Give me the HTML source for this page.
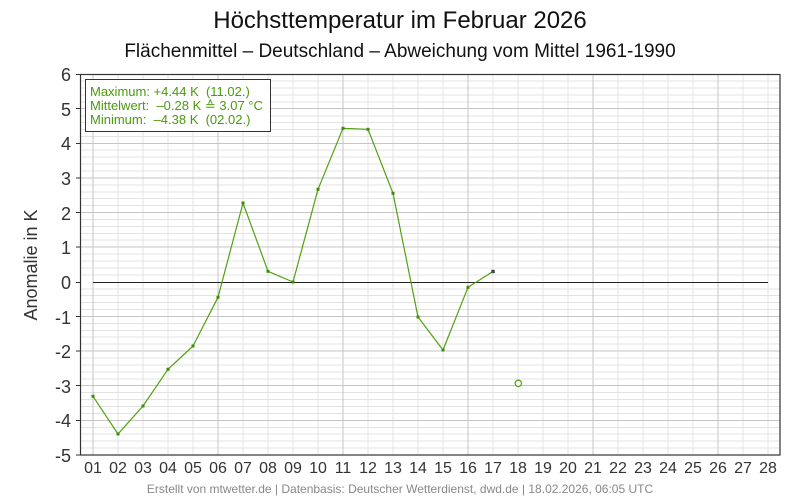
<!DOCTYPE html>
<html><head><meta charset="utf-8"><style>
html,body{margin:0;padding:0;background:#fff;}
svg{display:block;font-family:"Liberation Sans",Arial,sans-serif;}
.pre{white-space:pre;}
</style></head><body>
<svg width="800" height="500" viewBox="0 0 800 500" xmlns="http://www.w3.org/2000/svg">
<rect width="800" height="500" fill="#fff"/>
<text x="400" y="28" font-size="24" text-anchor="middle" fill="#111">Höchsttemperatur im Februar 2026</text>
<text x="400" y="57" font-size="19" text-anchor="middle" fill="#111">Flächenmittel – Deutschland – Abweichung vom Mittel 1961-1990</text>
<!-- minor horizontal grid -->
<g stroke="#e3e3e3" stroke-width="1" fill="none">
<path d="M80 81H780M80 88H780M80 95H780M80 102H780M80 116H780M80 122.5H780M80 129.5H780M80 136.5H780M80 150H780M80 157H780M80 164H780M80 171H780M80 185H780M80 192H780M80 198.5H780M80 205.5H780M80 219.5H780M80 226.5H780M80 233.5H780M80 240H780M80 254H780M80 261H780M80 268H780M80 275H780M80 289H780M80 295.5H780M80 302.5H780M80 309.5H780M80 323.5H780M80 330.5H780M80 337H780M80 344H780M80 358H780M80 365H780M80 372H780M80 379H780M80 392.5H780M80 399.5H780M80 406.5H780M80 413.5H780M80 427.5H780M80 434H780M80 441H780M80 448H780"/>
<path d="M118 74V455M143 74V455M168 74V455M193 74V455M243 74V455M268 74V455M293 74V455M318 74V455M368 74V455M393 74V455M418 74V455M443 74V455M493 74V455M518 74V455M543 74V455M568 74V455M618 74V455M643 74V455M668 74V455M693 74V455M743 74V455M768 74V455"/>
</g>
<g stroke="#c6c6c6" stroke-width="1" fill="none">
<path d="M80 108.5H780M80 143.5H780M80 178H780M80 212.5H780M80 247H780M80 316.5H780M80 351H780M80 385.5H780M80 420.5H780"/>
<path d="M93 74V455M218 74V455M343 74V455M468 74V455M593 74V455M718 74V455"/>
</g>
<!-- zero line -->
<line x1="93" y1="282.5" x2="768" y2="282.5" stroke="#222" stroke-width="1"/>
<!-- frame -->
<rect x="80.5" y="74.5" width="699.5" height="380.5" fill="none" stroke="#333" stroke-width="1.2"/>
<!-- y ticks -->
<g stroke="#333" stroke-width="1">
<path d="M76 74.5H80M76 108.5H80M76 143.5H80M76 178H80M76 212.5H80M76 247H80M76 282.5H80M76 316.5H80M76 351H80M76 385.5H80M76 420.5H80M76 455H80"/>
</g>
<g font-size="18" fill="#333" text-anchor="end">
<text x="71" y="81">6</text>
<text x="71" y="116">5</text>
<text x="71" y="150">4</text>
<text x="71" y="185">3</text>
<text x="71" y="220">2</text>
<text x="71" y="254">1</text>
<text x="71" y="289">0</text>
<text x="71" y="324">-1</text>
<text x="71" y="358">-2</text>
<text x="71" y="393">-3</text>
<text x="71" y="427">-4</text>
<text x="71" y="462">-5</text>
</g>
<text x="37" y="265" font-size="18" fill="#333" text-anchor="middle" transform="rotate(-90 37 265)">Anomalie in K</text>
<g font-size="16" fill="#333" text-anchor="middle">
<text x="93" y="473">01</text><text x="118" y="473">02</text><text x="143" y="473">03</text><text x="168" y="473">04</text><text x="193" y="473">05</text><text x="218" y="473">06</text><text x="243" y="473">07</text><text x="268" y="473">08</text><text x="293" y="473">09</text><text x="318" y="473">10</text><text x="343" y="473">11</text><text x="368" y="473">12</text><text x="393" y="473">13</text><text x="418" y="473">14</text><text x="443" y="473">15</text><text x="468" y="473">16</text><text x="493" y="473">17</text><text x="518" y="473">18</text><text x="543" y="473">19</text><text x="568" y="473">20</text><text x="593" y="473">21</text><text x="618" y="473">22</text><text x="643" y="473">23</text><text x="668" y="473">24</text><text x="693" y="473">25</text><text x="718" y="473">26</text><text x="743" y="473">27</text><text x="768" y="473">28</text>
</g>
<!-- data -->
<polyline fill="none" stroke="#52a012" stroke-width="1.2" stroke-linejoin="round" points="93,396.3 118,434 143,406 168,369.3 193,346 218,297.3 243,203 268,271.3 293,282 318,189.3 343,128.3 368,129.3 393,193.3 418,317 443,350 468,287.3 493,271.5"/>
<g fill="#3f8a0a">
<rect x="91.5" y="394.8" width="3" height="3"/><rect x="116.5" y="432.5" width="3" height="3"/><rect x="141.5" y="404.5" width="3" height="3"/><rect x="166.5" y="367.8" width="3" height="3"/><rect x="191.5" y="344.5" width="3" height="3"/><rect x="216.5" y="295.8" width="3" height="3"/><rect x="241.5" y="201.5" width="3" height="3"/><rect x="266.5" y="269.8" width="3" height="3"/><rect x="291.5" y="280.5" width="3" height="3"/><rect x="316.5" y="187.8" width="3" height="3"/><rect x="341.5" y="126.8" width="3" height="3"/><rect x="366.5" y="127.8" width="3" height="3"/><rect x="391.5" y="191.8" width="3" height="3"/><rect x="416.5" y="315.5" width="3" height="3"/><rect x="441.5" y="348.5" width="3" height="3"/><rect x="466.5" y="285.8" width="3" height="3"/>
</g>
<rect x="491.3" y="269.8" width="3.4" height="3.4" fill="#444"/>
<circle cx="518.3" cy="383.3" r="3.2" fill="#fff" stroke="#52a012" stroke-width="1.2"/>
<!-- legend -->
<rect x="85.5" y="79.5" width="185" height="52" fill="#fff" stroke="#333" stroke-width="1"/>
<g font-size="13" fill="#4a9a0c" class="pre">
<text x="90" y="96" class="pre">Maximum: +4.44 K  (11.02.)</text>
<text x="90" y="110" class="pre">Mittelwert:  –0.28 K ≙ 3.07 °C</text>
<text x="90" y="124" class="pre">Minimum:  –4.38 K  (02.02.)</text>
</g>
<text x="400" y="493" font-size="12" fill="#888" text-anchor="middle">Erstellt von mtwetter.de | Datenbasis: Deutscher Wetterdienst, dwd.de | 18.02.2026, 06:05 UTC</text>
</svg>
</body></html>
